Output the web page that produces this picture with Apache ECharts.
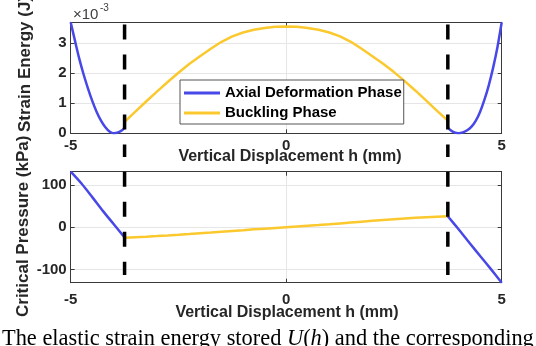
<!DOCTYPE html>
<html>
<head>
<meta charset="utf-8">
<script src="https://cdn.jsdelivr.net/npm/echarts@6.0.0/dist/echarts.min.js"></script>
<style>
  html, body { margin: 0; padding: 0; background: #fff; }
  #chart { width: 536px; height: 346px; }
</style>
</head>
<body>
<div id="chart"></div>
<script>
// vertical displacement h (mm) and strain energy U (x1e-3 J)
const hAxialLeft = [-5, -4.9, -4.8, -4.7, -4.6, -4.5, -4.4, -4.3, -4.2, -4.1, -4.0, -3.9, -3.8, -3.75];
const uAxialLeft = [3.70, 3.08, 2.48, 1.96, 1.50, 1.08, 0.72, 0.43, 0.21, 0.06, 0.00, 0.03, 0.11, 0.19];
const hAxialRight = [3.75, 3.8, 3.9, 4.0, 4.1, 4.2, 4.3, 4.4, 4.5, 4.6, 4.7, 4.8, 4.9, 5.0];
const uAxialRight = [0.20, 0.12, 0.03, 0.00, 0.03, 0.10, 0.22, 0.42, 0.72, 1.12, 1.60, 2.18, 2.86, 3.70];

const hBuckling = [-3.75, -3.5, -3.25, -3, -2.75, -2.5, -2.25, -2, -1.75, -1.5, -1.25, -1, -0.75, -0.5, -0.25, 0,
  0.25, 0.5, 0.75, 1, 1.25, 1.5, 1.75, 2, 2.25, 2.5, 2.75, 3, 3.25, 3.5, 3.75];
const uBuckling = [0.38, 0.72, 1.06, 1.39, 1.71, 2.02, 2.31, 2.57, 2.82, 3.05, 3.23, 3.36, 3.45, 3.51, 3.55, 3.56,
  3.55, 3.51, 3.45, 3.36, 3.23, 3.05, 2.82, 2.57, 2.32, 2.04, 1.74, 1.42, 1.09, 0.75, 0.42];

// critical pressure p (kPa)
const hPressLeft = [-5, -4.75, -4.5, -4.25, -4, -3.75];
const pPressLeft = [131, 103, 71, 38, 7, -24];
const hPressRight = [3.75, 4, 4.25, 4.5, 4.75, 5];
const pPressRight = [26, -5, -36.5, -68, -99, -131];
const pBuckling = [-25, -23.7, -22.4, -21, -19.5, -17.9, -16.2, -14.4, -12.6, -10.7, -8.8, -7, -5.1, -3.4, -1.7, 0,
  1.7, 3.4, 5.1, 7, 9, 11, 13, 15, 17, 19, 20.7, 22.2, 23.6, 24.9, 26];

// phase boundaries (dashed lines)
const hBoundary = [-3.75, 3.75];
const uBoundarySpan = [3.63, -0.79];
const pBoundarySpan = [131, -112.6];

const xTicks = ['-5', '0', '5'];

const blue = '#4848e8';
const yellow = '#fbc92e';
const ink = '#262626';
const font = 'Liberation Sans, Arial, sans-serif';
const serif = 'Liberation Serif, Times New Roman, serif';

const pairs = (xs, ys) => xs.map((x, i) => [x, ys[i]]);

const myChart = echarts.init(document.getElementById('chart'));

// shared axis look (MATLAB style: box, inward ticks, light grid)
const axisBase = {
    axisLine: { show: true, onZero: false, lineStyle: { color: '#3a3a3a', width: 1 } },
    axisTick: { show: true, inside: true, length: 4, lineStyle: { color: '#3a3a3a' } },
    splitLine: { show: true, lineStyle: { color: '#e6e6e6', width: 1 } }
};
const tickText = { color: ink, fontSize: 15, fontWeight: 'bold', fontFamily: font };

const xAxisFor = (gridIndex, position, margin) => Object.assign({}, axisBase, {
    type: 'value', gridIndex, position, min: -5, max: 5, interval: 5,
    splitLine: position === 'bottom' ? axisBase.splitLine : { show: false },
    axisLabel: position === 'bottom'
        ? Object.assign({ show: true, margin, formatter: v => xTicks[Math.round(v / 5) + 1] }, tickText)
        : { show: false }
});

const yAxisFor = (gridIndex, position, min, max, extra) => Object.assign({}, axisBase, {
    type: 'value', gridIndex, position, min, max,
    splitLine: position === 'left' ? axisBase.splitLine : { show: false },
    axisLabel: position === 'left'
        ? Object.assign({ show: true, margin: 4, showMinLabel: min === 0, showMaxLabel: false }, tickText)
        : { show: false }
}, extra);

const lineSeries = (name, xi, yi, data, color, smooth) => ({
    name, type: 'line', xAxisIndex: xi, yAxisIndex: yi, data,
    showSymbol: false, smooth, z: 2,
    lineStyle: { color, width: 2.5 }, itemStyle: { color }
});

const dashSeries = (xi, yi, x, span) => ({
    type: 'line', xAxisIndex: xi, yAxisIndex: yi, clip: false, silent: true, z: 5,
    data: span.map(v => [x, v]), showSymbol: false,
    lineStyle: { color: '#000', width: 3.5, type: [15, 15] }
});

const options = {
    animation: false,
    backgroundColor: '#fff',
    grid: [
        { left: 70.7, top: 22.3, width: 431, height: 111 },
        { left: 70.7, top: 171.7, width: 431, height: 111 }
    ],
    xAxis: [
        xAxisFor(0, 'bottom', 5),
        xAxisFor(0, 'top'),
        xAxisFor(1, 'bottom', 10),
        xAxisFor(1, 'top')
    ],
    yAxis: [
        yAxisFor(0, 'left', 0, 3.7, { interval: 1 }),
        yAxisFor(0, 'right', 0, 3.7, { interval: 1 }),
        yAxisFor(1, 'left', -131, 131, { splitNumber: 3 }),
        yAxisFor(1, 'right', -131, 131, { splitNumber: 3 })
    ],
    legend: {
        data: [
            { name: 'Axial Deformation Phase', icon: 'rect', itemStyle: { color: blue } },
            { name: 'Buckling Phase', icon: 'rect', itemStyle: { color: yellow } }
        ],
        orient: 'vertical',
        left: 180, top: 80,
        itemWidth: 36, itemHeight: 3, itemGap: 2,
        padding: [4, 2, 2, 4],
        borderColor: '#555', borderWidth: 1, backgroundColor: '#fff',
        textStyle: { color: '#000', fontSize: 15, fontWeight: 'bold', fontFamily: font, lineHeight: 18 }
    },
    graphic: [
        { type: 'text', x: 73, y: 15, style: { text: '\u00d710', fontSize: 15, fontFamily: font, fill: '#404040', verticalAlign: 'middle' } },
        { type: 'text', x: 100, y: 8, style: { text: '-3', fontSize: 10, fontFamily: font, fill: '#404040', verticalAlign: 'middle' } },
        { type: 'text', x: 25, y: 132, rotation: Math.PI / 2, style: { text: 'Strain Energy (J)', fontSize: 17, fontWeight: 'bold', fontFamily: font, fill: ink, align: 'left', verticalAlign: 'middle' } },
        { type: 'text', x: 23, y: 317, rotation: Math.PI / 2, style: { text: 'Critical Pressure (kPa)', fontSize: 17, fontWeight: 'bold', fontFamily: font, fill: ink, align: 'left', verticalAlign: 'middle' } },
        { type: 'text', x: 290, y: 157, style: { text: 'Vertical Displacement h (mm)', fontSize: 16, fontWeight: 'bold', fontFamily: font, fill: ink, align: 'center', verticalAlign: 'middle' } },
        { type: 'text', x: 287, y: 313, style: { text: 'Vertical Displacement h (mm)', fontSize: 16, fontWeight: 'bold', fontFamily: font, fill: ink, align: 'center', verticalAlign: 'middle' } },
        {
            type: 'text', x: 2, y: 339.5,
            style: {
                text: '{a|The elastic strain energy stored }{i|U}{a|(}{i|h}{a|) and the corresponding}',
                verticalAlign: 'middle', fill: '#000',
                rich: {
                    a: { fontSize: 22.4, fontFamily: serif, fill: '#000' },
                    i: { fontSize: 22.4, fontFamily: serif, fontStyle: 'italic', fill: '#000' }
                }
            }
        }
    ],
    series: [
        lineSeries('Axial Deformation Phase', 0, 0, pairs(hAxialLeft, uAxialLeft), blue, 0.3),
        lineSeries('Buckling Phase', 0, 0, pairs(hBuckling, uBuckling), yellow, false),
        lineSeries('Axial Deformation Phase', 0, 0, pairs(hAxialRight, uAxialRight), blue, 0.3),
        lineSeries('Axial Deformation Phase', 2, 2, pairs(hPressLeft, pPressLeft), blue, 0.3),
        lineSeries('Buckling Phase', 2, 2, pairs(hBuckling, pBuckling), yellow, false),
        lineSeries('Axial Deformation Phase', 2, 2, pairs(hPressRight, pPressRight), blue, 0.3),
        dashSeries(0, 0, hBoundary[0], uBoundarySpan),
        dashSeries(0, 0, hBoundary[1], uBoundarySpan),
        dashSeries(2, 2, hBoundary[0], pBoundarySpan),
        dashSeries(2, 2, hBoundary[1], pBoundarySpan)
    ]
};

myChart.setOption(options);
</script>
</body>
</html>
